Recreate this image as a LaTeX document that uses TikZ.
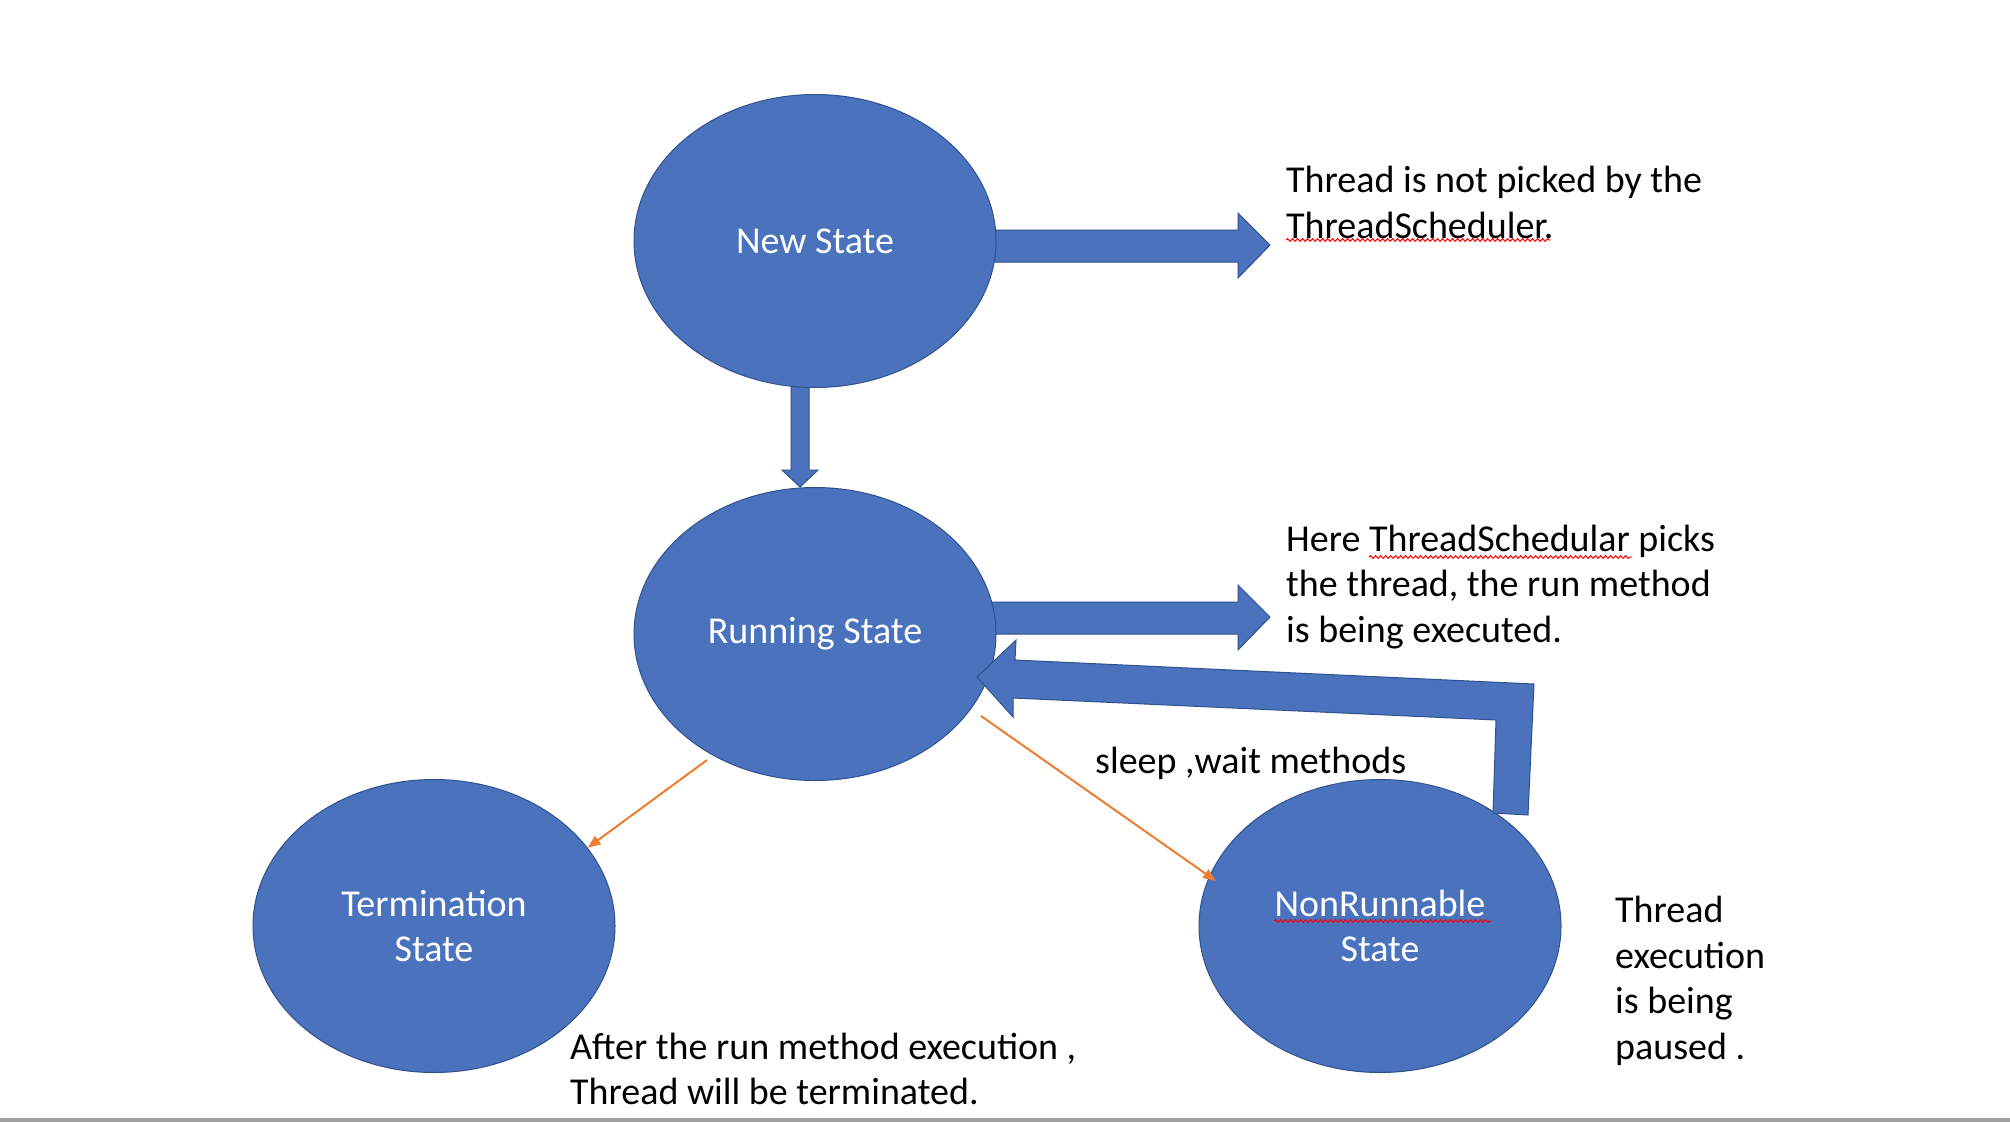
\documentclass[tikz,border=0pt]{standalone}
\usepackage{fontspec}
\setmainfont{Carlito}
\usetikzlibrary{shapes.geometric,arrows.meta,decorations.pathmorphing}
\definecolor{stblue}{HTML}{4A72BD}
\definecolor{stedge}{HTML}{2F528F}
\definecolor{storange}{HTML}{ED7D31}
\begin{document}
\begin{tikzpicture}[x=1pt,y=-1pt,
  state/.style={ellipse, fill=stblue, draw=stedge, line width=1pt, minimum width=362pt, minimum height=293pt, inner sep=0pt, text=white, font=\fontsize{38}{45.5}\selectfont, align=center},
  block/.style={fill=stblue, draw=stedge, line width=1pt, line join=miter},
  note/.style={anchor=west, inner sep=0pt, align=left, font=\fontsize{38}{45.5}\selectfont},
  thinarrow/.style={draw=storange, line width=2pt, -{Triangle[length=13pt,width=10pt]}},
  squiggle/.style={draw=red, line width=1pt, decorate, decoration={snake, amplitude=1.4pt, segment length=5pt}}]
\useasboundingbox (0,0) rectangle (2010,1122);
\fill[white] (0,0) rectangle (2010,1122);
\fill[gray!75] (0,1118) rectangle (2010,1122);

% block arrows drawn under the ellipses
\path[block] (990,230) -- (1238,230) -- (1238,213) -- (1270,245) -- (1238,278) -- (1238,262) -- (990,262) -- cycle;
\path[block] (791,380) -- (809,380) -- (809,470) -- (818,470) -- (800,487) -- (782,470) -- (791,470) -- cycle;
\path[block] (990,602) -- (1238,602) -- (1238,585) -- (1270,617) -- (1238,650) -- (1238,634) -- (990,634) -- cycle;

% states
\node[state] (new) at (815,241) {New State};
\node[state] (run) at (815,634) {Running State};
\node[state] (term) at (434,926) {Termination\\State};
\node[state] (nonr) at (1380,926) {NonRunnable\\State};

% return arrow from NonRunnable to Running
\path[block] (977,677) -- (1016,640) -- (1015,660) -- (1534,684) -- (1528,815) -- (1493,813) -- (1496,720) -- (1013,698) -- (1013,717) -- cycle;

% orange connectors
\coordinate (o1) at (707,760);
\coordinate (o2) at (981,716);
\coordinate (o2e) at (1216,881);
\draw[thinarrow] (o1) -- (term.27);
\draw[thinarrow] (o2) -- (o2e);

% notes
\node[note] (n1) at (1286,202.5) {Thread is not picked by the\\ThreadScheduler.};
\node[note] (n2) at (1286,587) {Here ThreadSchedular picks\\the thread, the run method\\is being executed.};
\node[note] (n3) at (1095,763) {sleep ,wait methods};
\node[note] (n4) at (570,1069) {After the run method execution ,\\Thread will be terminated.};
\node[note] (n5) at (1615,981) {Thread\\execution\\is being\\paused .};

% spell-check underlines
\draw[squiggle] (1286,240) -- (1550,240);
\draw[squiggle] (1369,557) -- (1632,557);
\draw[squiggle] (1274,921) -- (1491,921);
\end{tikzpicture}
\end{document}
